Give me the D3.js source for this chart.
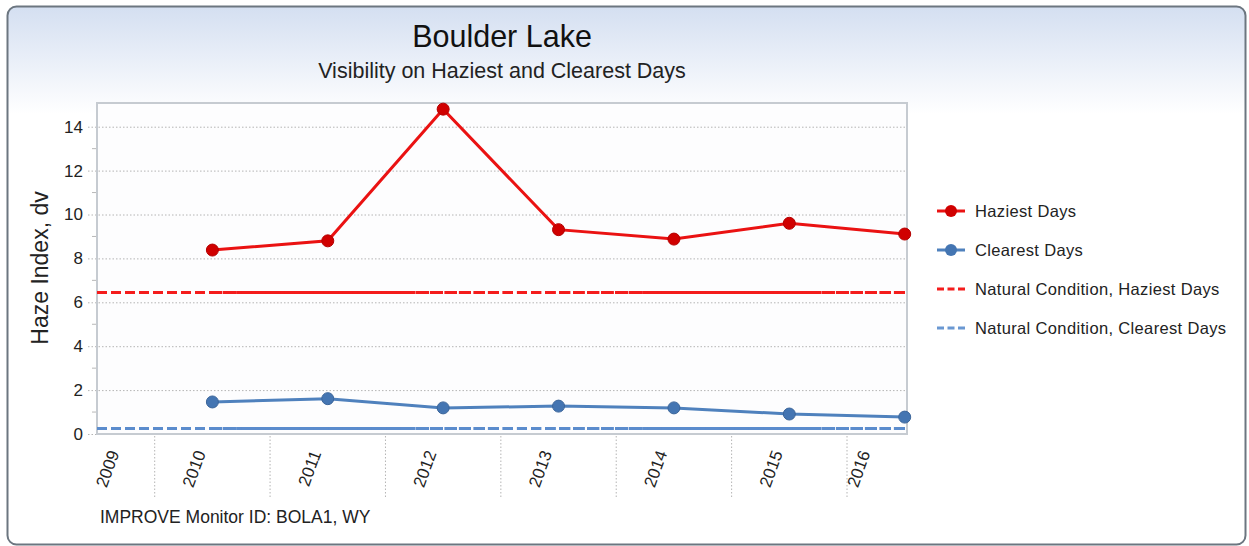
<!DOCTYPE html>
<html>
<head>
<meta charset="utf-8">
<title>Boulder Lake</title>
<style>
  body { margin: 0; background: #fff; }
  svg text { font-family: "Liberation Sans", Arial, sans-serif; }
</style>
</head>
<body>
<svg id="chart" width="1249" height="546"></svg>
<script src="https://d3js.org/d3.v7.min.js"></script>
<script>
// data
var years = [2009, 2010, 2011, 2012, 2013, 2014, 2015, 2016];
var dataYears = [2010, 2011, 2012, 2013, 2014, 2015, 2016];
var haziest = [8.38, 8.80, 14.80, 9.31, 8.88, 9.60, 9.11];
var clearest = [1.46, 1.61, 1.19, 1.27, 1.19, 0.91, 0.77];
var naturalHaziest = 6.45;
var naturalClearest = 0.25;
var yTicks = [0, 2, 4, 6, 8, 10, 12, 14];
var yMinorTicks = [1, 3, 5, 7, 9, 11, 13];
var legendLabels = ["Haziest Days", "Clearest Days", "Natural Condition, Haziest Days", "Natural Condition, Clearest Days"];

var svg = d3.select('#chart');

var pLeft = 97, pRight = 907, pTop = 103, pBottom = 434;

var x = d3.scaleLinear().domain([2009, 2016.02]).range([pLeft, pRight]);
var y = d3.scaleLinear().domain([0, 15.08]).range([pBottom, pTop]);

// background panel
var grad = svg.append('defs').append('linearGradient')
    .attr('id', 'bg').attr('x1', 0).attr('y1', 0).attr('x2', 0).attr('y2', 1);
grad.append('stop').attr('offset', 0).attr('stop-color', '#d4dff1');
grad.append('stop').attr('offset', 0.2).attr('stop-color', '#ffffff');
grad.append('stop').attr('offset', 1).attr('stop-color', '#ffffff');

svg.append('rect')
    .attr('x', 7.5).attr('y', 6.5).attr('width', 1238).attr('height', 538)
    .attr('rx', 9)
    .style('fill', 'url(#bg)')
    .style('stroke', '#6c7680')
    .style('stroke-width', 2);

svg.append('rect')
    .attr('x', pLeft).attr('y', pTop).attr('width', pRight - pLeft).attr('height', pBottom - pTop)
    .style('fill', '#fdfdfe');

// titles
svg.append('text')
    .attr('x', 502).attr('y', 47)
    .attr('text-anchor', 'middle')
    .style('font-size', '30.5px')
    .style('fill', '#111')
    .text('Boulder Lake');

svg.append('text')
    .attr('x', 502).attr('y', 78)
    .attr('text-anchor', 'middle')
    .style('font-size', '21.5px')
    .style('fill', '#222')
    .text('Visibility on Haziest and Clearest Days');

// y gridlines + labels
var yAxis = d3.axisLeft(y).tickValues(yTicks).tickSize(0).tickPadding(8);
var gy = svg.append('g').attr('transform', 'translate(' + pLeft + ',0)').call(yAxis);
gy.select('.domain').remove();
gy.selectAll('.tick line')
    .attr('x1', -9)
    .attr('x2', pRight - pLeft)
    .style('stroke', '#b4b4b4')
    .style('stroke-dasharray', '1.5,2');
gy.selectAll('.tick text')
    .attr('x', -14)
    .style('font-size', '17px')
    .style('font-family', '"Liberation Sans", Arial, sans-serif')
    .style('fill', '#222');

svg.append('g').selectAll('line')
    .data(yMinorTicks)
    .enter()
    .append('line')
    .attr('x1', pLeft - 5).attr('x2', pLeft)
    .attr('y1', function(d) { return y(d); })
    .attr('y2', function(d) { return y(d); })
    .style('stroke', '#b8b8b8');

// x separators and labels
svg.append('g').selectAll('line')
    .data(years.slice(0, -1))
    .enter()
    .append('line')
    .attr('x1', function(d) { return x(d + 0.5); })
    .attr('x2', function(d) { return x(d + 0.5); })
    .attr('y1', pBottom + 2).attr('y2', 497)
    .style('stroke', '#b4b4b4')
    .style('stroke-dasharray', '1.5,2');

svg.append('g').selectAll('text')
    .data(years)
    .enter()
    .append('text')
    .attr('transform', function(d) {
        var lo = Math.max(d - 0.5, x.domain()[0]);
        var hi = Math.min(d + 0.5, x.domain()[1]);
        var cx = x((lo + hi) / 2) - 12;
        return 'translate(' + cx + ',451) rotate(-70)';
    })
    .attr('text-anchor', 'end')
    .attr('dy', '0.35em')
    .style('font-size', '17px')
    .style('fill', '#222')
    .text(function(d) { return d; });

// plot frame
svg.append('rect')
    .attr('x', pLeft).attr('y', pTop).attr('width', pRight - pLeft).attr('height', pBottom - pTop)
    .style('fill', 'none')
    .style('stroke', '#c6cbd1')
    .style('stroke-width', 2);

// natural condition dashed lines (two overlapping runs, like the original)
function dashed(val, color) {
    svg.append('line')
        .attr('x1', x(2009)).attr('x2', pRight)
        .attr('y1', y(val)).attr('y2', y(val))
        .style('stroke', color).style('stroke-width', 3)
        .style('stroke-dasharray', '10,4');
    svg.append('line')
        .attr('x1', x(2010)).attr('x2', pRight)
        .attr('y1', y(val)).attr('y2', y(val))
        .style('stroke', color).style('stroke-width', 3)
        .style('stroke-dasharray', '10,4.5');
}
dashed(naturalHaziest, '#f41c1c');
dashed(naturalClearest, '#5b8ccd');

// series
var line = d3.line()
    .x(function(d, i) { return x(dataYears[i]); })
    .y(function(d) { return y(d); });

function series(vals, lineColor, dotColor) {
    svg.append('path')
        .datum(vals)
        .attr('d', line)
        .style('fill', 'none')
        .style('stroke', lineColor)
        .style('stroke-width', 3);
    svg.append('g').selectAll('circle')
        .data(vals)
        .enter()
        .append('circle')
        .attr('cx', function(d, i) { return x(dataYears[i]); })
        .attr('cy', function(d) { return y(d); })
        .attr('r', 6)
        .style('fill', dotColor)
        .style('stroke', d3.color(dotColor).darker(0.4))
        .style('stroke-width', 1);
}
series(haziest, '#ea1212', '#d00000');
series(clearest, '#4f81bd', '#4475b2');

// y axis title
svg.append('text')
    .attr('transform', 'translate(48,268) rotate(-90)')
    .attr('text-anchor', 'middle')
    .style('font-size', '23px')
    .style('fill', '#222')
    .text('Haze Index, dv');

// footer
svg.append('text')
    .attr('x', 100).attr('y', 523)
    .style('font-size', '17.5px')
    .style('fill', '#222')
    .text('IMPROVE Monitor ID: BOLA1, WY');

// legend
var legendY = [211, 250, 289, 328];
var legendColors = ['#ea1212', '#4f81bd', '#f41c1c', '#6a98d2'];
var lg = svg.append('g').selectAll('g')
    .data(legendLabels)
    .enter()
    .append('g')
    .attr('transform', function(d, i) { return 'translate(937,' + legendY[i] + ')'; });

lg.append('line')
    .attr('x1', 0).attr('x2', 28)
    .style('stroke', function(d, i) { return legendColors[i]; })
    .style('stroke-width', 3)
    .style('stroke-dasharray', function(d, i) { return i > 1 ? '7,3.5' : null; });

lg.filter(function(d, i) { return i < 2; })
    .append('circle')
    .attr('cx', 14).attr('r', 6)
    .style('fill', function(d, i) { return i === 0 ? '#d00000' : '#4475b2'; });

lg.append('text')
    .attr('x', 38).attr('dy', '0.35em')
    .style('font-size', '16.5px')
    .style('letter-spacing', '0.35px')
    .style('fill', '#222')
    .text(function(d) { return d; });
</script>
</body>
</html>
